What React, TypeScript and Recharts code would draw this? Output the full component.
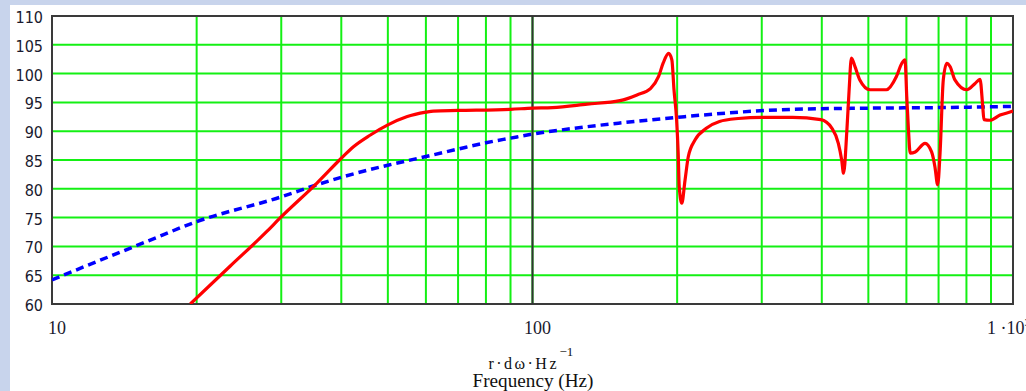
import React from "react";
import {
  LineChart,
  Line,
  XAxis,
  YAxis,
  CartesianGrid,
  ReferenceLine,
  ReferenceArea,
} from "recharts";

const measuredFreq = [
  19.4, 23.5, 28, 29.8, 35.6, 40, 42.4, 45.9, 50, 54.7, 60, 62.2, 70, 90,
  100, 110, 130, 152, 165, 176, 183, 187, 192, 195, 197, 199.5, 201, 202,
  204.5, 207.7, 211, 218, 230, 245, 268, 300, 348, 398, 420, 433, 440, 444,
  451, 456, 461, 469, 480, 504, 545, 572, 587, 596, 601, 606, 611, 626, 656,
  677, 688, 697, 705, 716, 728, 740, 757, 801, 834, 854, 865, 870, 896, 940,
  993, 1000,
];
const measuredLevel = [
  60, 66.6, 72.6, 74.9, 81, 85.3, 87.3, 89.3, 91.1, 92.5, 93.3, 93.5, 93.6,
  93.8, 94.0, 94.1, 94.7, 95.3, 96.3, 97.4, 99.5, 101.8, 103.5, 102.4, 97.2,
  91.9, 86.2, 80.4, 77.5, 81.5, 85.6, 88.5, 90.5, 91.7, 92.2, 92.4, 92.4, 92,
  90.5, 87.9, 85, 82.7, 90, 97.2, 102.7, 101.2, 98.9, 97.2, 97.2, 99.5, 101.8,
  102.4, 96, 90.2, 86.2, 86.4, 87.9, 86.4, 83.8, 80.7, 86.2, 98.9, 101.8,
  101.2, 98.9, 97.2, 98.3, 99.0, 94.3, 92.0, 91.9, 92.8, 93.4, 93.5,
];

// Reference curve (blue dashed)
const referenceFreq = [
  10, 12.6, 15.7, 20, 30, 35.6, 40, 50, 60, 70, 80, 90, 100, 122, 151, 200,
  268, 350, 500, 700, 1000,
];
const referenceLevel = [
  64.2, 67.6, 70.8, 74.3, 78.6, 80.7, 82, 84.1, 85.6, 86.9, 88, 88.8, 89.5,
  90.5, 91.4, 92.4, 93.3, 93.8, 94.0, 94.1, 94.3,
];

const gridFreqs = [
  10, 20, 30, 40, 50, 60, 70, 80, 90, 100, 200, 300, 400, 500, 600, 700, 800,
  900, 1000,
];
const labeledFreqs = [10, 100, 1000];
const levelTicks = [60, 65, 70, 75, 80, 85, 90, 95, 100, 105, 110];

const measuredData = measuredFreq.map((f, i) => ({ f, v: measuredLevel[i] }));
const referenceData = referenceFreq.map((f, i) => ({ f, v: referenceLevel[i] }));

const serif = "'Liberation Serif', 'Times New Roman', serif";
const sans = "'DejaVu Sans Condensed', 'DejaVu Sans', sans-serif";

const FreqTick = ({ x, y, payload }: any) => {
  const v = payload.value;
  if (!labeledFreqs.includes(v)) return null;
  if (v === 1000) {
    return (
      <text x={x - 26} y={y + 22} fontFamily={serif} fontSize={18} fill="#1a1a2e">
        1 ·10
        <tspan dy={-8} fontSize={11}>
          3
        </tspan>
      </text>
    );
  }
  return (
    <text
      x={x + 5}
      y={y + 22}
      textAnchor="middle"
      fontFamily={serif}
      fontSize={18}
      fill="#1a1a2e"
    >
      {v}
    </text>
  );
};

const LevelTick = ({ x, y, payload }: any) => (
  <text
    x={x - 1}
    y={y + 7}
    textAnchor="end"
    fontFamily={sans}
    fontSize={16}
    fill="#1a1a2e"
  >
    {payload.value}
  </text>
);

const AxisTitle = ({ viewBox }: any) => {
  const cx = viewBox.x + viewBox.width / 2;
  const top = viewBox.y;
  return (
    <g fontFamily={serif} fill="#111">
      <text
        x={cx - 44}
        y={top + 65}
        fontSize={16}
        textLength={68}
        lengthAdjust="spacing"
      >
        r·dω·Hz
      </text>
      <text x={cx + 27} y={top + 52} fontSize={13}>
        −1
      </text>
      <text
        x={cx - 60}
        y={top + 83}
        fontSize={18}
        textLength={121}
        lengthAdjust="spacingAndGlyphs"
      >
        Frequency (Hz)
      </text>
    </g>
  );
};

export default function App() {
  return (
    <div
      style={{
        position: "absolute",
        left: 0,
        top: 0,
        width: 1026,
        height: 391,
        background: "#c8d4ec",
        overflow: "hidden",
      }}
    >
      <div
        style={{
          position: "absolute",
          left: 10,
          top: 5,
          right: 0,
          bottom: 0,
          background: "#ffffff",
        }}
      />
      <div style={{ position: "absolute", left: 0, top: 0 }}>
        <LineChart
          width={1026}
          height={391}
          margin={{ top: 16, right: 13, bottom: 0, left: 0 }}
        >
          <CartesianGrid stroke="#14f014" strokeWidth={2} />
          <XAxis
            dataKey="f"
            type="number"
            scale="log"
            domain={[10, 1000]}
            allowDataOverflow
            ticks={gridFreqs}
            interval={0}
            tickLine={false}
            axisLine={false}
            height={87}
            tick={<FreqTick />}
            label={<AxisTitle />}
          />
          <YAxis
            type="number"
            domain={[60, 110]}
            allowDataOverflow
            ticks={levelTicks}
            interval={0}
            tickLine={false}
            axisLine={false}
            width={52}
            tick={<LevelTick />}
          />
          <ReferenceLine x={100} stroke="#333333" strokeWidth={2} />
          <Line
            data={referenceData}
            dataKey="v"
            type="monotone"
            stroke="#0000ff"
            strokeWidth={3.5}
            strokeDasharray="8 5"
            dot={false}
            isAnimationActive={false}
          />
          <Line
            data={measuredData}
            dataKey="v"
            type="monotone"
            stroke="#ff0000"
            strokeWidth={3.2}
            dot={false}
            isAnimationActive={false}
          />
          <ReferenceArea
            x1={10}
            x2={1000}
            y1={60}
            y2={110}
            fill="none"
            stroke="#3a3a3a"
            strokeWidth={2}
          />
        </LineChart>
      </div>
    </div>
  );
}
